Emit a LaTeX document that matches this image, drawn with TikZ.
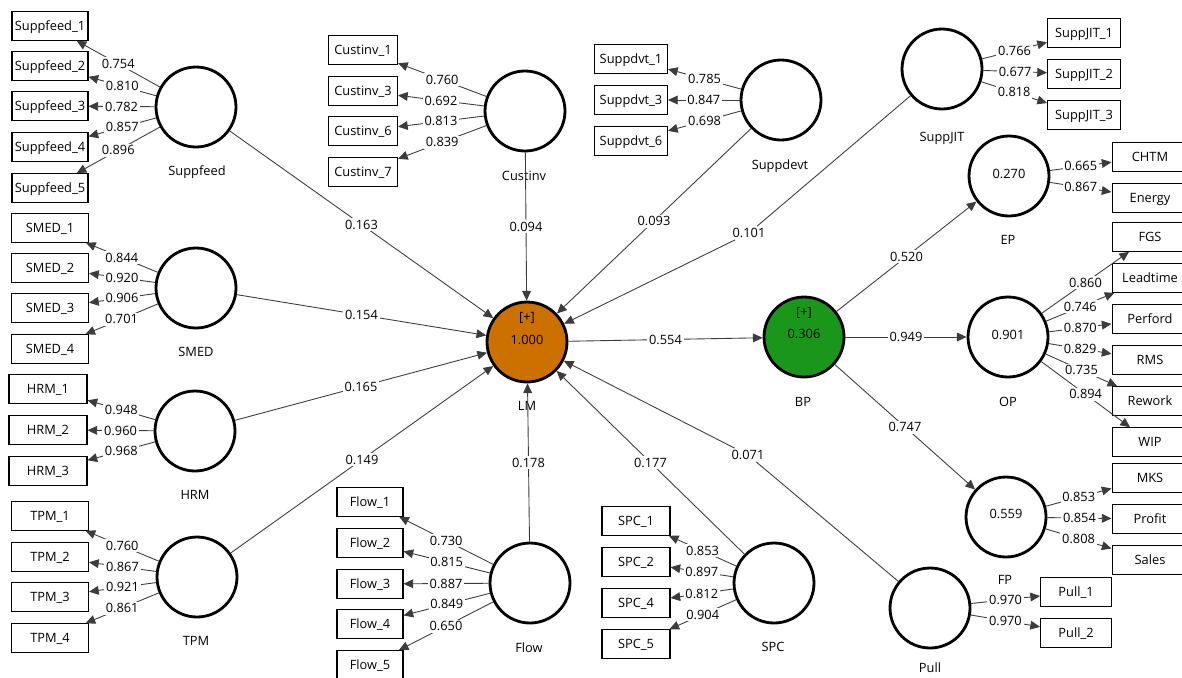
\documentclass[tikz,border=0pt]{standalone}
\usepackage{fontspec}
\setmainfont{Open Sans}
\usetikzlibrary{arrows.meta}
\definecolor{lmorange}{RGB}{204,112,0}
\definecolor{bpgreen}{RGB}{26,150,26}
\definecolor{linegray}{RGB}{60,60,60}
\newcommand\plsfont{\fontsize{7.3}{9}\selectfont}
\tikzset{
  lv/.style={circle,draw,line width=1.6pt,minimum size=1.6cm,inner sep=0pt},
  ind/.style={rectangle,draw,line width=0.6pt,minimum height=0.57cm,minimum width=#1,
    inner sep=0pt,font=\plsfont,text height=0.72em,text depth=0.22em},
  ind/.default=1.52cm,
  lvname/.style={inner sep=0pt,font=\plsfont,text height=0.72em,text depth=0pt},
  val/.style={inner sep=0pt,font=\plsfont,text height=0.72em,text depth=0pt},
  wt/.style={fill=white,inner sep=1pt,font=\plsfont},
}
\begin{document}
\begin{tikzpicture}[x=0.02cm,y=-0.02cm]
  \useasboundingbox (0,0) rectangle (1182,677);
  % latent variables
  \node[lv] (SF) at (196,107) {};
  \node[lv] (CI) at (525,111) {};
  \node[lv] (SD) at (781,100) {};
  \node[lv] (SJ) at (942,69) {};
  \node[lv] (SM) at (196,288) {};
  \node[lv] (HR) at (195,431) {};
  \node[lv] (TP) at (197,577) {};
  \node[lv] (FL) at (530,583) {};
  \node[lv] (SP) at (774,583) {};
  \node[lv] (PL) at (930,608) {};
  \node[lv,fill=lmorange] (LM) at (527,342) {};
  \node[lv,fill=bpgreen] (BP) at (804,337) {};
  \node[lv] (EP) at (1009,176) {};
  \node[lv] (OP) at (1008,337) {};
  \node[lv] (FP) at (1006,517) {};
  % values inside
  \node[val] (LMp) at (527,315) {[+]};
  \node[val] (LMv) at (527,338) {1.000};
  \node[val] (BPp) at (804,310) {[+]};
  \node[val] (BPv) at (804,332) {0.306};
  \node[val] (EPv) at (1009,172) {0.270};
  \node[val] (OPv) at (1008,333) {0.901};
  \node[val] (FPv) at (1006,512) {0.559};
  % names
  \node[lvname] (SFn) at (197,169) {Suppfeed};
  \node[lvname] (CIn) at (524,174) {Custinv};
  \node[lvname] (SDn) at (780,163) {Suppdevt};
  \node[lvname] (SJn) at (942,135) {SuppJIT};
  \node[lvname] (SMn) at (196,350) {SMED};
  \node[lvname] (HRn) at (195,493) {HRM};
  \node[lvname] (TPn) at (196,639) {TPM};
  \node[lvname] (FLn) at (529,646) {Flow};
  \node[lvname] (SPn) at (773,645) {SPC};
  \node[lvname] (PLn) at (930,666) {Pull};
  \node[lvname] (LMn) at (527,404) {LM};
  \node[lvname] (BPn) at (803,400) {BP};
  \node[lvname] (EPn) at (1008,238) {EP};
  \node[lvname] (OPn) at (1008,400) {OP};
  \node[lvname] (FPn) at (1005,578) {FP};
  % indicators
  \node[ind] (SF1) at (50,26) {Suppfeed\_1};
  \node[ind] (SF2) at (50,66) {Suppfeed\_2};
  \node[ind] (SF3) at (50,106) {Suppfeed\_3};
  \node[ind] (SF4) at (50,147) {Suppfeed\_4};
  \node[ind] (SF5) at (50,188) {Suppfeed\_5};
  \node[ind=1.54cm] (SM1) at (50,228) {SMED\_1};
  \node[ind=1.54cm] (SM2) at (50,268) {SMED\_2};
  \node[ind=1.54cm] (SM3) at (50,308) {SMED\_3};
  \node[ind=1.54cm] (SM4) at (50,349) {SMED\_4};
  \node[ind=1.56cm] (HR1) at (48,389) {HRM\_1};
  \node[ind=1.56cm] (HR2) at (48,430) {HRM\_2};
  \node[ind=1.56cm] (HR3) at (48,471) {HRM\_3};
  \node[ind=1.54cm] (TP1) at (50,516) {TPM\_1};
  \node[ind=1.54cm] (TP2) at (50,557) {TPM\_2};
  \node[ind=1.54cm] (TP3) at (50,597) {TPM\_3};
  \node[ind=1.54cm] (TP4) at (50,638) {TPM\_4};
  \node[ind=1.38cm] (CI1) at (363,50) {Custinv\_1};
  \node[ind=1.38cm] (CI3) at (363,91) {Custinv\_3};
  \node[ind=1.38cm] (CI6) at (363,131) {Custinv\_6};
  \node[ind=1.38cm] (CI7) at (363,172) {Custinv\_7};
  \node[ind=1.46cm] (SD1) at (631,59) {Suppdvt\_1};
  \node[ind=1.46cm] (SD3) at (631,100) {Suppdvt\_3};
  \node[ind=1.46cm] (SD6) at (631,141) {Suppdvt\_6};
  \node[ind=1.46cm] (SJ1) at (1084,33) {SuppJIT\_1};
  \node[ind=1.46cm] (SJ2) at (1084,74) {SuppJIT\_2};
  \node[ind=1.46cm] (SJ3) at (1084,115) {SuppJIT\_3};
  \node[ind] (CHTM) at (1150,157) {CHTM};
  \node[ind] (Energy) at (1150,198) {Energy};
  \node[ind] (FGS) at (1150,237) {FGS};
  \node[ind] (Leadtime) at (1150,278) {Leadtime};
  \node[ind] (Perford) at (1150,319) {Perford};
  \node[ind] (RMS) at (1150,360) {RMS};
  \node[ind] (Rework) at (1150,401) {Rework};
  \node[ind] (WIP) at (1150,442) {WIP};
  \node[ind] (MKS) at (1150,478) {MKS};
  \node[ind] (Profit) at (1150,519) {Profit};
  \node[ind] (Sales) at (1150,560) {Sales};
  \node[ind=1.42cm] (PL1) at (1076,592) {Pull\_1};
  \node[ind=1.42cm] (PL2) at (1076,633) {Pull\_2};
  \node[ind=1.32cm] (FL1) at (370,502) {Flow\_1};
  \node[ind=1.32cm] (FL2) at (370,543) {Flow\_2};
  \node[ind=1.32cm] (FL3) at (370,584) {Flow\_3};
  \node[ind=1.32cm] (FL4) at (370,624) {Flow\_4};
  \node[ind=1.32cm] (FL5) at (370,665) {Flow\_5};
  \node[ind=1.36cm] (SP1) at (636,521) {SPC\_1};
  \node[ind=1.36cm] (SP2) at (636,562) {SPC\_2};
  \node[ind=1.36cm] (SP4) at (636,603) {SPC\_4};
  \node[ind=1.36cm] (SP5) at (636,644) {SPC\_5};
  % bend points of two paths
  \node[wt] (L101) at (749,233) {0.101};
  \node[wt] (L071) at (748,455) {0.071};
  \begin{scope}[every edge/.style={draw=linegray,line width=0.5pt,-{Triangle[length=5.5pt,width=5pt]}},
      every node/.style={wt}]
    % outer loadings
    \path (SF) edge node {0.754} (SF1);
    \path (SF) edge node {0.810} (SF2);
    \path (SF) edge node {0.782} (SF3);
    \path (SF) edge node {0.857} (SF4);
    \path (SF) edge node {0.896} (SF5);
    \path (SM) edge node {0.844} (SM1);
    \path (SM) edge node {0.920} (SM2);
    \path (SM) edge node {0.906} (SM3);
    \path (SM) edge node {0.701} (SM4);
    \path (HR) edge node {0.948} (HR1);
    \path (HR) edge node {0.960} (HR2);
    \path (HR) edge node {0.968} (HR3);
    \path (TP) edge node {0.760} (TP1);
    \path (TP) edge node {0.867} (TP2);
    \path (TP) edge node {0.921} (TP3);
    \path (TP) edge node {0.861} (TP4);
    \path (CI) edge node {0.760} (CI1);
    \path (CI) edge node {0.692} (CI3);
    \path (CI) edge node {0.813} (CI6);
    \path (CI) edge node {0.839} (CI7);
    \path (SD) edge node {0.785} (SD1);
    \path (SD) edge node {0.847} (SD3);
    \path (SD) edge node {0.698} (SD6);
    \path (SJ) edge node {0.766} (SJ1);
    \path (SJ) edge node {0.677} (SJ2);
    \path (SJ) edge node {0.818} (SJ3);
    \path (EP) edge node {0.665} (CHTM);
    \path (EP) edge node {0.867} (Energy);
    \path (OP) edge node {0.860} (FGS);
    \path (OP) edge node {0.746} (Leadtime);
    \path (OP) edge node {0.870} (Perford);
    \path (OP) edge node {0.829} (RMS);
    \path (OP) edge node {0.735} (Rework);
    \path (OP) edge node {0.894} (WIP);
    \path (FP) edge node {0.853} (MKS);
    \path (FP) edge node {0.854} (Profit);
    \path (FP) edge node {0.808} (Sales);
    \path (PL) edge node {0.970} (PL1);
    \path (PL) edge node {0.970} (PL2);
    \path (FL) edge node {0.730} (FL1);
    \path (FL) edge node {0.815} (FL2);
    \path (FL) edge node {0.887} (FL3);
    \path (FL) edge node {0.849} (FL4);
    \path (FL) edge node {0.650} (FL5);
    \path (SP) edge node {0.853} (SP1);
    \path (SP) edge node {0.897} (SP2);
    \path (SP) edge node {0.812} (SP4);
    \path (SP) edge node {0.904} (SP5);
    % inner model
    \path (SF) edge node {0.163} (LM);
    \path (SM) edge node {0.154} (LM);
    \path (HR) edge node {0.165} (LM);
    \path (TP) edge node {0.149} (LM);
    \path (CI) edge node {0.094} (LM);
    \path (FL) edge node {0.178} (LM);
    \path (SP) edge node {0.177} (LM);
    \path (SD) edge node {0.093} (LM);
    \path (SJ) edge[-] (L101);
    \path (L101) edge (LM);
    \path (PL) edge[-] (L071);
    \path (L071) edge (LM);
    \path (LM) edge node {0.554} (BP);
    \path (BP) edge node {0.520} (EP);
    \path (BP) edge node {0.949} (OP);
    \path (BP) edge node {0.747} (FP);
  \end{scope}
\end{tikzpicture}
\end{document}
